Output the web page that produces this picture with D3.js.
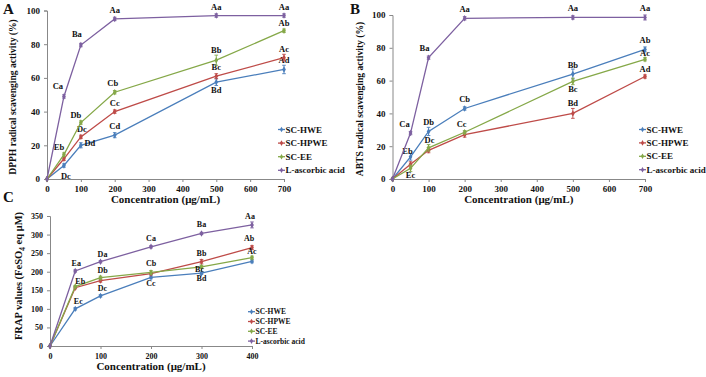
<!DOCTYPE html>
<html>
<head>
<meta charset="utf-8">
<script src="https://cdn.jsdelivr.net/npm/d3@7"></script>
<style>
  body { margin: 0; background: #fff; }
  svg text { font-family: "Liberation Serif", "Times New Roman", serif; font-weight: bold; fill: #111; }
</style>
</head>
<body>
<script>
// ---- data ----
var seriesNames = ["SC-HWE", "SC-HPWE", "SC-EE", "L-ascorbic acid"];
var colors = ["#4a7ebb", "#be4b48", "#85a848", "#7d60a0"];

// panel A: DPPH
var concA = [0, 50, 100, 200, 500, 700];
var dpphHWE = [0, 8, 20, 26, 57.5, 65];
var dpphHPWE = [0, 12, 25, 40, 61, 72];
var dpphEE = [0, 14.5, 33.5, 51.5, 70.5, 88];
var dpphVC = [0, 49, 79.5, 95, 97, 97];
var dpphErr = [[0, 1, 1.5, 1.5, 2, 2.5], [0, 1, 1, 1, 1.5, 2], [0, 1, 1, 1, 3, 1], [0, 1, 1, 1, 1, 1]];
var dpphLetters = [["", "Dc", "Dd", "Cd", "Bd", "Ad"], ["", "", "Dc", "Cc", "Bc", "Ac"], ["", "Eb", "Db", "Cb", "Bb", "Ab"], ["", "Ca", "Ba", "Aa", "Aa", "Aa"]];

// panel B: ABTS
var concB = [0, 50, 100, 200, 500, 700];
var abtsHWE = [0, 13.5, 29, 43, 64, 79];
var abtsHPWE = [0, 9, 17.5, 27, 40, 62.5];
var abtsEE = [0, 6.5, 19, 28.5, 59.5, 73];
var abtsVC = [0, 28, 74, 98, 98.5, 98.5];
var abtsErr = [[0, 2, 2.5, 1, 3, 1.5], [0, 1.5, 1.5, 1.5, 3, 1], [0, 2, 2, 1, 2, 1], [0, 1, 1, 1, 1, 1.5]];
var abtsLetters = [["", "Eb", "Db", "Cb", "Bb", "Ab"], ["", "Ec", "", "", "Bd", "Ad"], ["", "", "Dc", "Cc", "Bc", "Ac"], ["", "Ca", "Ba", "Aa", "Aa", "Aa"]];

// panel C: FRAP
var concC = [0, 50, 100, 200, 300, 400];
var frapHWE = [0, 100, 135, 185, 196, 228];
var frapHPWE = [0, 157, 176, 195, 227, 265];
var frapEE = [0, 160, 184, 198, 213, 238];
var frapVC = [0, 202, 227, 267, 303, 326];
var frapErr = [[0, 3, 3, 4, 3, 4], [0, 3, 4, 3, 6, 5], [0, 3, 4, 5, 4, 4], [0, 3, 3, 3, 3, 8]];
var frapLetters = [["", "Ec", "Dc", "Cc", "Bd", ""], ["", "", "", "", "Bb", "Ab"], ["", "Eb", "Db", "Cb", "Bc", "Ac"], ["", "Ea", "Da", "Ca", "Ba", "Aa"]];

// ---- layout of letter labels (dx, dy from point) ----
var offA = [[[0,0],[2,13],[9,1],[0,-6],[0,11],[0,-6]], [[0,0],[0,0],[1,-5],[0,-6],[0,-6],[0,-6]], [[0,0],[-5,-5],[-5,-5],[-2,-6],[0,-7],[0,-5]], [[0,0],[-6,-7],[-4,-8],[0,-6],[0,-6],[0,-6]]];
var offB = [[[0,0],[-3,-3],[0,-6],[0,-6],[0,-6],[0,-6]], [[0,0],[0,14],[0,0],[0,0],[0,-7],[0,-5]], [[0,0],[0,0],[1,-5],[-3,-5],[0,11],[0,-3]], [[0,0],[-6,-6],[-4,-7],[0,-6],[0,-6],[0,-6]]];
var offC = [[[0,0],[3,-5],[2,-5],[0,9],[0,8],[0,0]], [[0,0],[0,0],[0,0],[0,0],[0,-6],[-3,-7]], [[0,0],[5,-3],[2,-5],[0,-6],[-2,5],[0,-4]], [[0,0],[1,-5],[2,-5],[0,-6],[0,-6],[-2,-6]]];

var svg = d3.select("body").append("svg")
  .attr("width", 706)
  .attr("height", 377);

function drawPanel(p) {
  var g = svg.append("g");
  var x = d3.scaleLinear().domain(p.xDomain).range([p.left, p.right]);
  var y = d3.scaleLinear().domain(p.yDomain).range([p.bottom, p.top]);

  var xAxis = g.append("g")
    .attr("transform", "translate(0," + p.bottom + ")")
    .call(d3.axisBottom(x).tickValues(p.xTicks).tickSize(3).tickPadding(4).tickFormat(d3.format("d")));
  var yAxis = g.append("g")
    .attr("transform", "translate(" + p.left + ",0)")
    .call(d3.axisLeft(y).tickValues(p.yTicks).tickSize(3).tickPadding(4).tickFormat(d3.format("d")));
  [xAxis, yAxis].forEach(function(a) {
    a.select(".domain").attr("stroke", "#888");
    a.selectAll(".tick line").attr("stroke", "#888");
    a.selectAll("text").attr("font-size", p.tickFont).attr("fill", "#111")
      .attr("font-family", "Liberation Serif").attr("font-weight", "bold");
  });

  var line = d3.line()
    .x(function(d, i) { return x(p.conc[i]); })
    .y(function(d) { return y(d); });

  p.series.forEach(function(vals, s) {
    var c = colors[s];
    g.append("path").datum(vals)
      .attr("d", line)
      .attr("fill", "none")
      .attr("stroke", c)
      .attr("stroke-width", 1.3);

    // error bars
    vals.forEach(function(v, i) {
      var e = p.err[s][i];
      if (!e) return;
      var cx = x(p.conc[i]);
      g.append("line").attr("x1", cx).attr("x2", cx)
        .attr("y1", y(v - e)).attr("y2", y(v + e))
        .attr("stroke", c).attr("stroke-width", 0.9);
      [v - e, v + e].forEach(function(w) {
        g.append("line").attr("x1", cx - 1.8).attr("x2", cx + 1.8)
          .attr("y1", y(w)).attr("y2", y(w))
          .attr("stroke", c).attr("stroke-width", 0.9);
      });
    });

    // markers
    g.selectAll(".m" + s).data(vals).enter().append("path")
      .attr("transform", function(d, i) { return "translate(" + x(p.conc[i]) + "," + y(d) + ")"; })
      .attr("d", d3.symbol().type(d3.symbolDiamond).size(12))
      .attr("fill", c);

    // letters
    g.selectAll(".l" + s).data(vals).enter().append("text")
      .attr("x", function(d, i) { return x(p.conc[i]) + p.off[s][i][0]; })
      .attr("y", function(d, i) { return y(d) + p.off[s][i][1]; })
      .attr("text-anchor", "middle")
      .attr("font-size", p.letterFont)
      .text(function(d, i) { return p.letters[s][i]; });
  });

  // legend
  var leg = g.append("g").attr("transform", "translate(" + p.legX + "," + p.legY + ")");
  seriesNames.forEach(function(name, s) {
    var yy = s * p.legStep;
    leg.append("line").attr("x1", 0).attr("x2", 7).attr("y1", yy).attr("y2", yy)
      .attr("stroke", colors[s]).attr("stroke-width", 1.3);
    leg.append("path").attr("transform", "translate(3.5," + yy + ")")
      .attr("d", d3.symbol().type(d3.symbolDiamond).size(9)).attr("fill", colors[s]);
    leg.append("text").attr("x", 7.5).attr("y", yy).attr("dy", "0.35em")
      .attr("font-size", p.legFont).text(name);
  });

  // axis titles
  g.append("text")
    .attr("x", (p.left + p.right) / 2)
    .attr("y", p.bottom + p.xTitleDy)
    .attr("text-anchor", "middle")
    .attr("font-size", p.titleFont)
    .text("Concentration (μg/mL)");

  var yt = g.append("text")
    .attr("transform", "translate(" + p.yTitleX + "," + p.yTitleY + ") rotate(-90)")
    .attr("text-anchor", "middle")
    .attr("font-size", p.yTitleFont);
  p.yTitle(yt);

  g.append("text").attr("x", p.letterX).attr("y", p.letterY)
    .attr("font-size", 15).text(p.name);
}

drawPanel({
  name: "A", letterX: 3, letterY: 14,
  conc: concA, series: [dpphHWE, dpphHPWE, dpphEE, dpphVC], err: dpphErr,
  letters: dpphLetters, off: offA,
  xDomain: [0, 700], yDomain: [0, 100],
  xTicks: [0, 100, 200, 300, 400, 500, 600, 700], yTicks: [0, 20, 40, 60, 80, 100],
  left: 47, right: 284, top: 10.5, bottom: 179,
  tickFont: 9, letterFont: 8.5, titleFont: 11, yTitleFont: 9.6,
  legX: 278, legY: 129.5, legStep: 13.6, legFont: 9,
  xTitleDy: 24, yTitleX: 16, yTitleY: 97,
  yTitle: function(t) { t.text("DPPH radical scavenging activity (%)"); }
});

drawPanel({
  name: "B", letterX: 350, letterY: 14,
  conc: concB, series: [abtsHWE, abtsHPWE, abtsEE, abtsVC], err: abtsErr,
  letters: abtsLetters, off: offB,
  xDomain: [0, 700], yDomain: [0, 100],
  xTicks: [0, 100, 200, 300, 400, 500, 600, 700], yTicks: [0, 20, 40, 60, 80, 100],
  left: 392.5, right: 645, top: 15, bottom: 179,
  tickFont: 9, letterFont: 8.5, titleFont: 11, yTitleFont: 9.6,
  legX: 639, legY: 129.5, legStep: 13.4, legFont: 9,
  xTitleDy: 24, yTitleX: 363, yTitleY: 99,
  yTitle: function(t) { t.text("ABTS radical scavenging activity (%)"); }
});

drawPanel({
  name: "C", letterX: 3, letterY: 202,
  conc: concC, series: [frapHWE, frapHPWE, frapEE, frapVC], err: frapErr,
  letters: frapLetters, off: offC,
  xDomain: [0, 400], yDomain: [0, 350],
  xTicks: [0, 100, 200, 300, 400], yTicks: [0, 50, 100, 150, 200, 250, 300, 350],
  left: 50, right: 252, top: 216, bottom: 346,
  tickFont: 8, letterFont: 8, titleFont: 11, yTitleFont: 10.5,
  legX: 248, legY: 311.7, legStep: 9.8, legFont: 7.5,
  xTitleDy: 24, yTitleX: 22, yTitleY: 276,
  yTitle: function(t) {
    t.append("tspan").text("FRAP values (FeSO");
    t.append("tspan").attr("font-size", 7.5).attr("dy", 3).text("4");
    t.append("tspan").attr("dy", -3).text(" eq μM)");
  }
});
</script>
</body>
</html>
